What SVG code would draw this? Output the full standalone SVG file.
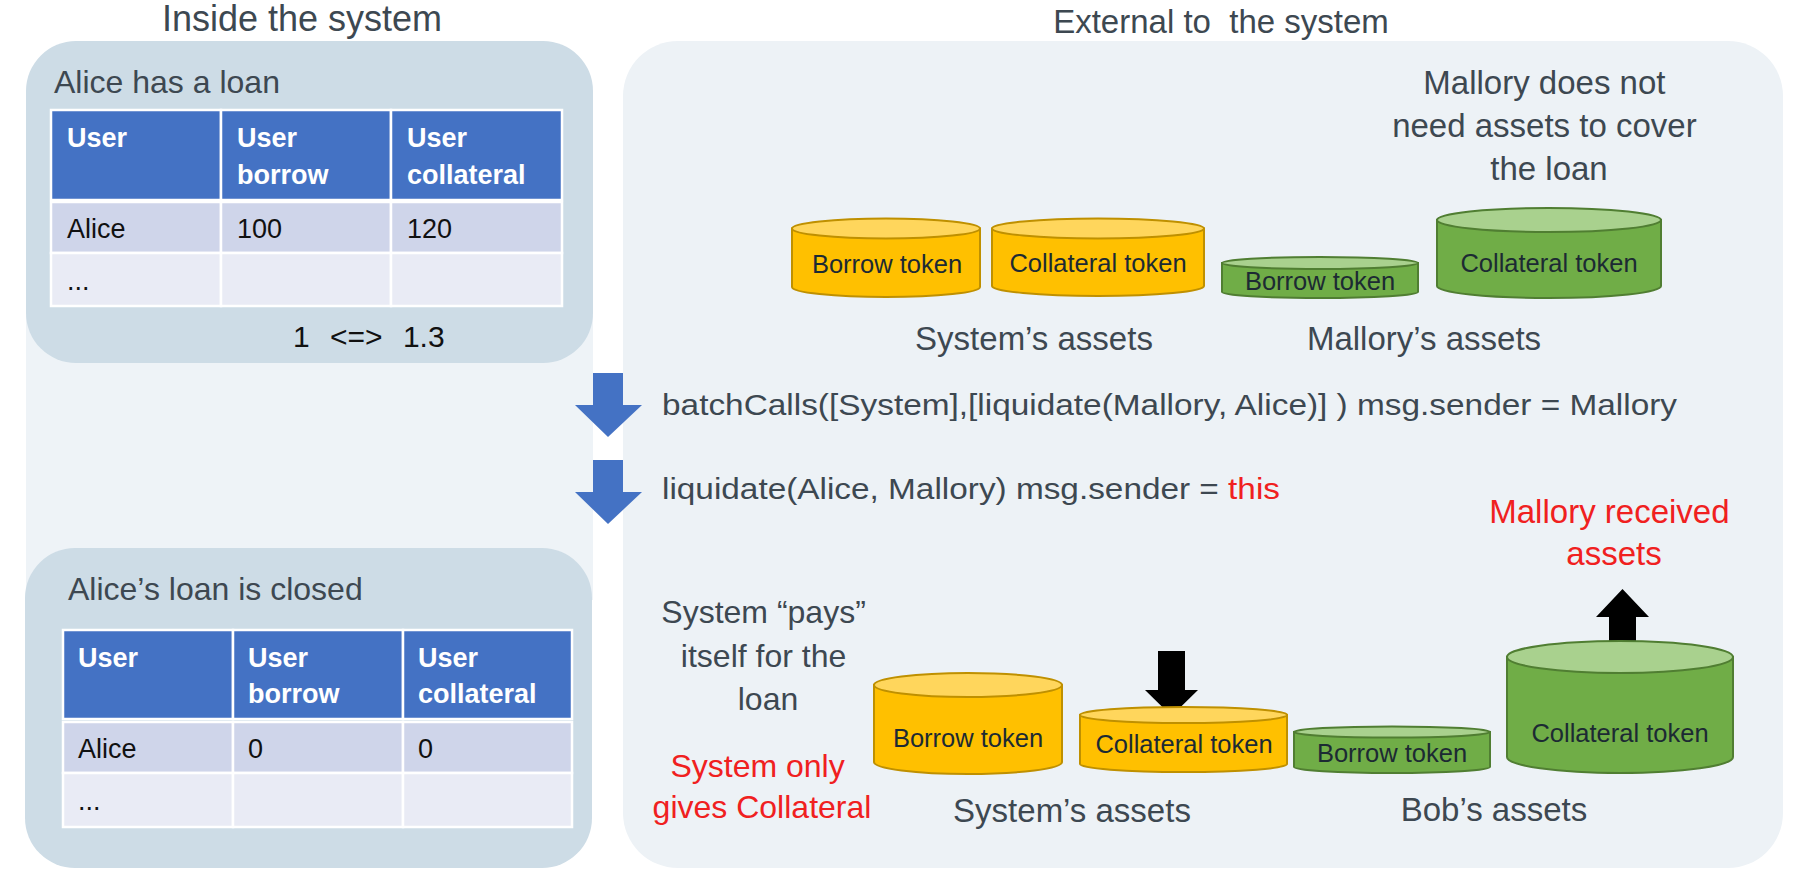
<svg xmlns="http://www.w3.org/2000/svg" width="1797" height="871" viewBox="0 0 1797 871">
<style>
  .lbl { font-family: "Liberation Sans", Arial, sans-serif; fill: #3d4851; }
  .red { fill: #f02020; }
  .th { font-family: "Liberation Sans", Arial, sans-serif; font-weight: bold; font-size: 27px; fill: #ffffff; }
  .td { font-family: "Liberation Sans", Arial, sans-serif; font-size: 27px; fill: #111111; }
  .hdr { fill: #4472c4; stroke: #ffffff; stroke-width: 2.5; }
  .r1 { fill: #cfd5ea; stroke: #ffffff; stroke-width: 2.5; }
  .r2 { fill: #e9ebf5; stroke: #ffffff; stroke-width: 2.5; }
  .ybody { fill: #ffc000; stroke: #bf9000; stroke-width: 2; }
  .ytop { fill: #ffd65c; stroke: #bf9000; stroke-width: 2; }
  .gbody { fill: #70ad47; stroke: #507e32; stroke-width: 2; }
  .gtop { fill: #a9d18e; stroke: #507e32; stroke-width: 2; }
  .ctext { font-family: "Liberation Sans", Arial, sans-serif; font-size: 25.5px; fill: #1c2a33; text-anchor: middle; }
  .blue { fill: #4472c4; }
  .blk { fill: #000000; }
</style>

<!-- backgrounds -->
<g id="backgrounds">
  <rect x="26" y="300" width="567" height="300" fill="#eef3f7"/>
  <rect id="external-panel" x="623" y="41" width="1160" height="827" rx="55" ry="55" fill="#edf2f6"/>
</g>

<!-- titles -->
<text class="lbl" x="302" y="31" font-size="36" text-anchor="middle">Inside the system</text>
<text class="lbl" x="1221" y="33" font-size="33" text-anchor="middle" xml:space="preserve">External to  the system</text>

<!-- top left panel -->
<g id="panel-before">
  <rect x="26" y="41" width="567" height="322" rx="50" ry="50" fill="#cddce6"/>
  <text class="lbl" x="54" y="93" font-size="32">Alice has a loan</text>
  <g id="table-before">
    <rect class="hdr" x="51" y="110" width="170" height="90"/>
    <rect class="hdr" x="221" y="110" width="170" height="90"/>
    <rect class="hdr" x="391" y="110" width="171" height="90"/>
    <rect class="r1" x="51" y="202" width="170" height="51"/>
    <rect class="r1" x="221" y="202" width="170" height="51"/>
    <rect class="r1" x="391" y="202" width="171" height="51"/>
    <rect class="r2" x="51" y="253" width="170" height="53"/>
    <rect class="r2" x="221" y="253" width="170" height="53"/>
    <rect class="r2" x="391" y="253" width="171" height="53"/>
    <text class="th" x="67" y="147">User</text>
    <text class="th" x="237" y="147">User</text>
    <text class="th" x="237" y="184">borrow</text>
    <text class="th" x="407" y="147">User</text>
    <text class="th" x="407" y="184">collateral</text>
    <text class="td" x="67" y="238">Alice</text>
    <text class="td" x="237" y="238">100</text>
    <text class="td" x="407" y="238">120</text>
    <text class="td" x="67" y="290">...</text>
  </g>
  <text class="lbl" x="293" y="347" font-size="30" fill="#111111" style="fill:#111111" word-spacing="12">1 &lt;=&gt; 1.3</text>
</g>

<!-- bottom left panel -->
<g id="panel-after">
  <rect x="25" y="548" width="567" height="320" rx="50" ry="50" fill="#cddce6"/>
  <text class="lbl" x="68" y="600" font-size="32">Alice’s loan is closed</text>
  <g id="table-after">
    <rect class="hdr" x="63" y="630" width="170" height="89"/>
    <rect class="hdr" x="233" y="630" width="170" height="89"/>
    <rect class="hdr" x="403" y="630" width="169" height="89"/>
    <rect class="r1" x="63" y="722" width="170" height="51"/>
    <rect class="r1" x="233" y="722" width="170" height="51"/>
    <rect class="r1" x="403" y="722" width="169" height="51"/>
    <rect class="r2" x="63" y="773" width="170" height="54"/>
    <rect class="r2" x="233" y="773" width="170" height="54"/>
    <rect class="r2" x="403" y="773" width="169" height="54"/>
    <text class="th" x="78" y="667">User</text>
    <text class="th" x="248" y="667">User</text>
    <text class="th" x="248" y="703">borrow</text>
    <text class="th" x="418" y="667">User</text>
    <text class="th" x="418" y="703">collateral</text>
    <text class="td" x="78" y="758">Alice</text>
    <text class="td" x="248" y="758">0</text>
    <text class="td" x="418" y="758">0</text>
    <text class="td" x="78" y="810">...</text>
  </g>
</g>

<!-- top assets -->
<g id="mallory-note">
  <text class="lbl" font-size="33" text-anchor="middle">
    <tspan x="1549" y="94">Mallory does not</tspan>
    <tspan x="1549" y="137">need assets to cover</tspan>
    <tspan x="1549" y="180">the loan</tspan>
  </text>
</g>

<g id="sys-borrow-1">
  <path class="ybody" d="M792,228.5 L792,287 A94,10 0 0 0 980,287 L980,228.5 Z"/>
  <ellipse class="ytop" cx="886" cy="228.5" rx="94" ry="10"/>
  <text class="ctext" x="887" y="273">Borrow token</text>
</g>
<g id="sys-collateral-1">
  <path class="ybody" d="M992,228.5 L992,286 A106,10 0 0 0 1204,286 L1204,228.5 Z"/>
  <ellipse class="ytop" cx="1098" cy="228.5" rx="106" ry="10"/>
  <text class="ctext" x="1098" y="272">Collateral token</text>
</g>
<g id="mal-borrow-1">
  <path class="gbody" d="M1222,263 L1222,292 A98,6 0 0 0 1418,292 L1418,263 Z"/>
  <ellipse class="gtop" cx="1320" cy="263" rx="98" ry="6"/>
  <text class="ctext" x="1320" y="290">Borrow token</text>
</g>
<g id="mal-collateral-1">
  <path class="gbody" d="M1437,220 L1437,286 A112,12 0 0 0 1661,286 L1661,220 Z"/>
  <ellipse class="gtop" cx="1549" cy="220" rx="112" ry="12"/>
  <text class="ctext" x="1549" y="272">Collateral token</text>
</g>
<text class="lbl" x="1034" y="350" font-size="33" text-anchor="middle">System’s assets</text>
<text class="lbl" x="1424" y="350" font-size="33" text-anchor="middle">Mallory’s assets</text>

<!-- calls -->
<g id="connectors">
  <polygon class="blue" points="593,373 623,373 623,405 642,405 608,437 575,405 593,405"/>
  <polygon class="blue" points="593,460 623,460 623,492 642,492 608,524 575,492 593,492"/>
  <polygon class="blk" points="1158,651 1185,651 1185,690 1198,690 1171.5,716 1145,690 1158,690"/>
  <polygon class="blk" points="1609,654 1636,654 1636,617 1649,617 1622.5,589 1596,617 1609,617"/>
</g>

<text class="lbl" x="662" y="415" font-size="30" textLength="1015" lengthAdjust="spacingAndGlyphs">batchCalls([System],[liquidate(Mallory, Alice)] ) msg.sender = Mallory</text>
<text class="lbl" x="662" y="499" font-size="30" textLength="618" lengthAdjust="spacingAndGlyphs">liquidate(Alice, Mallory) msg.sender = <tspan class="red">this</tspan></text>

<text class="lbl red" font-size="33" text-anchor="middle">
  <tspan x="1614" y="523">Mallory received</tspan>
  <tspan x="1614" y="565">assets</tspan>
</text>

<!-- bottom assets -->
<text class="lbl" font-size="32" text-anchor="middle">
  <tspan x="768" y="623">System “pays”</tspan>
  <tspan x="768" y="667">itself for the</tspan>
  <tspan x="768" y="710">loan</tspan>
</text>
<text class="lbl red" font-size="32" text-anchor="middle">
  <tspan x="762" y="777">System only</tspan>
  <tspan x="762" y="818">gives Collateral</tspan>
</text>

<g id="sys-borrow-2">
  <path class="ybody" d="M874,685 L874,762 A94,12 0 0 0 1062,762 L1062,685 Z"/>
  <ellipse class="ytop" cx="968" cy="685" rx="94" ry="12"/>
  <text class="ctext" x="968" y="747">Borrow token</text>
</g>
<g id="sys-collateral-2">
  <path class="ybody" d="M1080,715 L1080,764 A103.5,8 0 0 0 1287,764 L1287,715 Z"/>
  <ellipse class="ytop" cx="1183.5" cy="715" rx="103.5" ry="8"/>
  <text class="ctext" x="1184" y="753">Collateral token</text>
</g>
<g id="bob-borrow-2">
  <path class="gbody" d="M1294,732 L1294,767 A98,6 0 0 0 1490,767 L1490,732 Z"/>
  <ellipse class="gtop" cx="1392" cy="732" rx="98" ry="5.5"/>
  <text class="ctext" x="1392" y="762">Borrow token</text>
</g>
<g id="bob-collateral-2">
  <path class="gbody" d="M1507,657 L1507,757 A113,16 0 0 0 1733,757 L1733,657 Z"/>
  <ellipse class="gtop" cx="1620" cy="657" rx="113" ry="16"/>
  <text class="ctext" x="1620" y="742">Collateral token</text>
</g>
<text class="lbl" x="1072" y="822" font-size="33" text-anchor="middle">System’s assets</text>
<text class="lbl" x="1494" y="821" font-size="33" text-anchor="middle">Bob’s assets</text>
</svg>
